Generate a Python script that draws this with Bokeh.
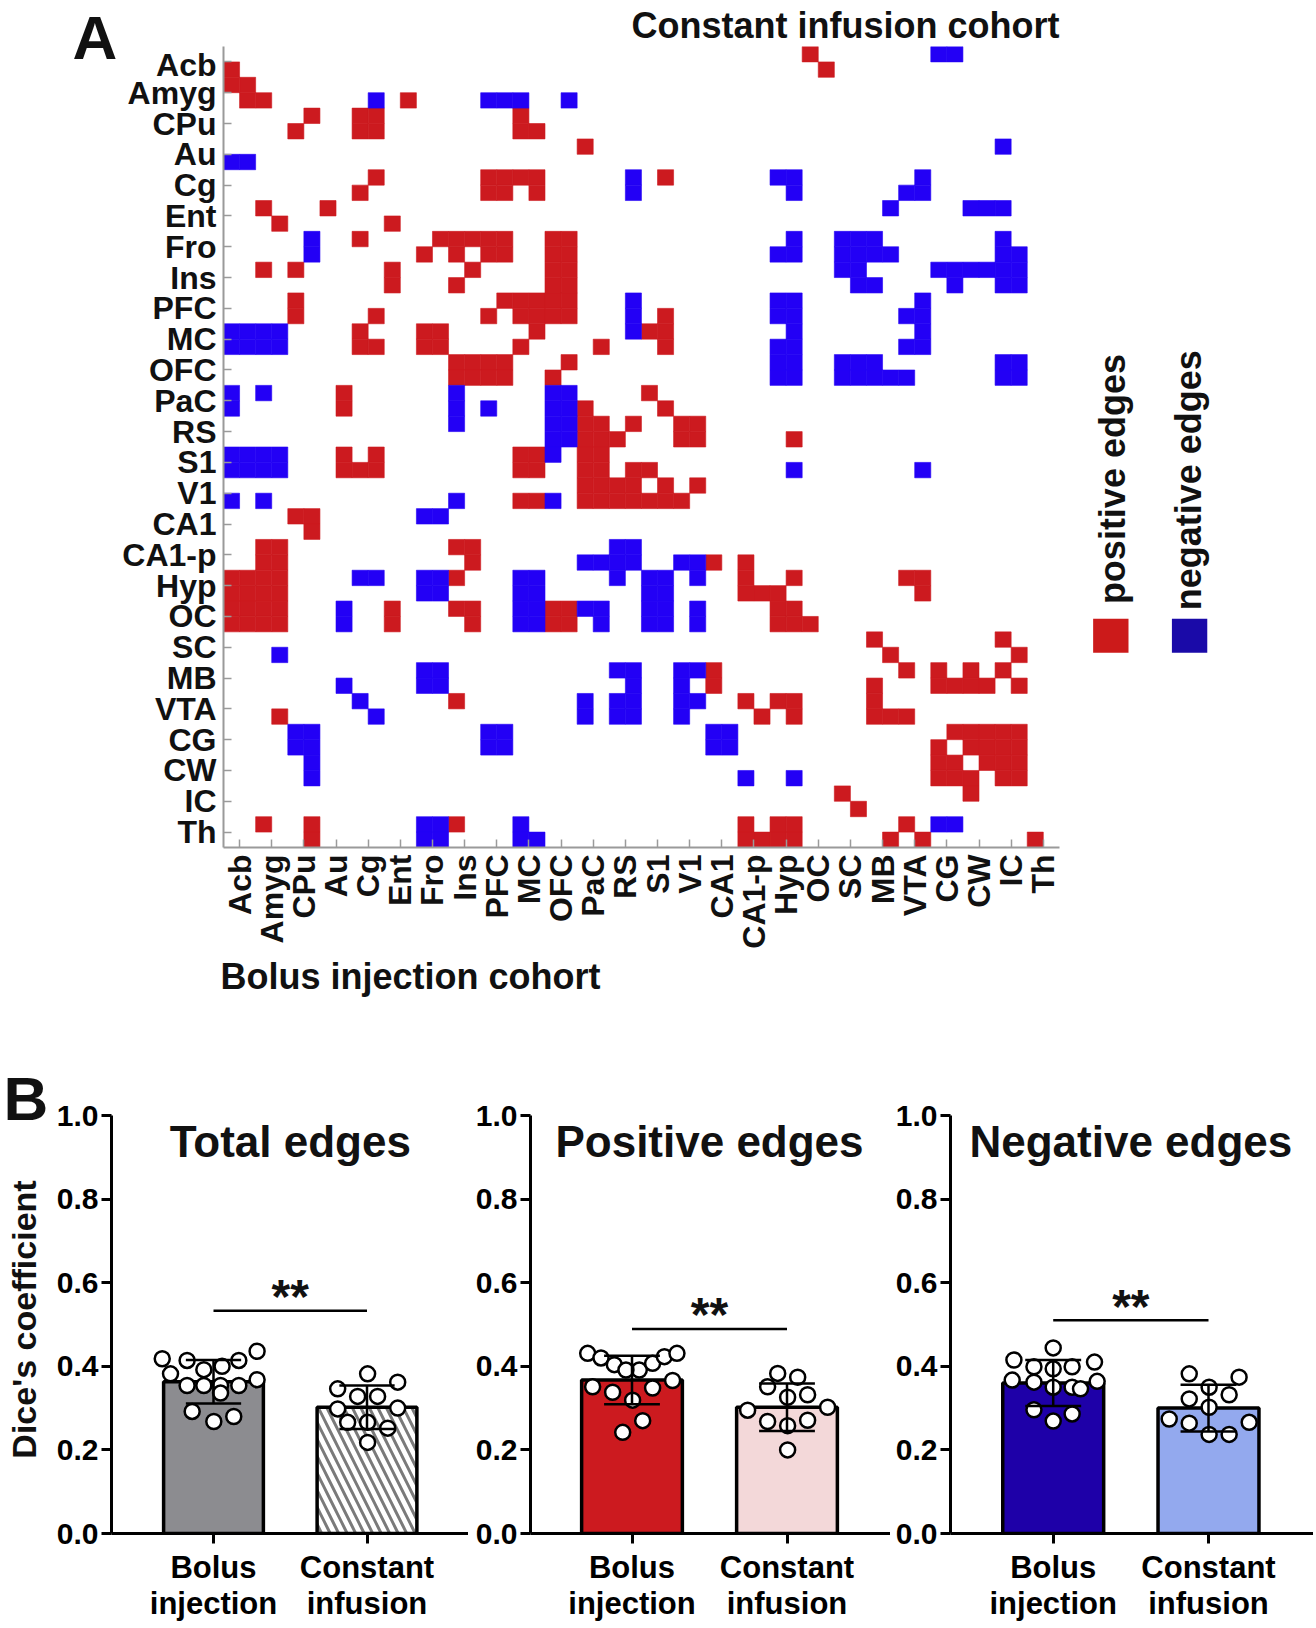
import math
from bokeh.plotting import figure
from bokeh.models import Range1d, FixedTicker, Label, PrintfTickFormatter
from bokeh.layouts import column, row
from bokeh.embed import file_html
from bokeh.resources import INLINE

FONT = "Liberation Sans"
RED = "#CC1A1F"
BLUE = "#2300F5"
BASE_SHIFT = 0.33   # Bokeh draws an "alphabetic" label about a third of an em low

# ---------------- Panel A data ----------------
regions = ["Acb", "Amyg", "CPu", "Au", "Cg", "Ent", "Fro", "Ins", "PFC", "MC",
           "OFC", "PaC", "RS", "S1", "V1", "CA1", "CA1-p", "Hyp", "OC", "SC",
           "MB", "VTA", "CG", "CW", "IC", "Th"]

# column indices of positive (red) edges, one list per matrix row
pos_edges = [
    [36], [0, 37], [0, 1], [1, 2, 11], [5, 8, 9, 18], [4, 8, 9, 18, 19], [22], [],
    [9, 16, 17, 18, 19, 27], [8, 16, 17, 19], [2, 6], [3, 10],
    [8, 13, 14, 15, 16, 17, 20, 21], [12, 14, 16, 17, 20, 21], [2, 4, 10, 15, 20, 21],
    [10, 14, 20, 21], [4, 17, 18, 19, 20, 21], [4, 9, 16, 18, 19, 20, 21, 27],
    [8, 12, 13, 19, 26, 27], [8, 9, 12, 13, 18, 23, 27], [14, 15, 16, 17, 21],
    [14, 15, 16, 17, 20], [7, 26], [7, 22, 27], [22, 23, 25, 28, 29],
    [22, 23, 24, 28, 29, 35], [7, 9, 18, 19, 22, 23], [7, 8, 9, 18, 19, 22, 23, 25, 26],
    [22, 23, 24, 25, 27, 29], [18, 19, 22, 23, 24, 25, 26, 27, 28], [4, 5], [5],
    [2, 3, 14, 15], [2, 3, 15, 30, 32], [0, 1, 2, 3, 14, 32, 35, 42, 43],
    [0, 1, 2, 3, 32, 33, 34, 43], [0, 1, 2, 3, 10, 14, 15, 20, 21, 34, 35],
    [0, 1, 2, 3, 10, 15, 20, 21, 34, 35, 36], [40, 48], [41, 49],
    [30, 42, 44, 46, 48], [30, 40, 44, 45, 46, 47, 49], [14, 32, 34, 35, 40],
    [3, 33, 35, 40, 41, 42], [45, 46, 47, 48, 49], [44, 46, 47, 48, 49],
    [44, 45, 47, 48, 49], [44, 45, 46, 48, 49], [38, 46], [39],
    [2, 5, 14, 32, 34, 35, 42], [5, 32, 33, 34, 35, 41, 43, 50],
]

# column indices of negative (blue) edges, one list per matrix row
neg_edges = [
    [44, 45], [], [], [9, 16, 17, 18, 21], [], [], [48], [0, 1],
    [25, 34, 35, 43], [25, 35, 42, 43], [41, 46, 47, 48], [],
    [5, 35, 38, 39, 40, 48], [5, 34, 35, 38, 39, 40, 41, 48, 49],
    [38, 39, 44, 45, 46, 47, 48, 49], [39, 40, 45, 48, 49], [25, 34, 35, 43],
    [25, 34, 35, 42, 43], [0, 1, 2, 3, 25, 35, 43], [0, 1, 2, 3, 34, 35, 42, 43],
    [34, 35, 38, 39, 40, 48, 49], [34, 35, 38, 39, 40, 41, 42, 48, 49],
    [0, 2, 14, 20, 21], [0, 14, 16, 20, 21], [14, 20, 21], [20, 21],
    [0, 1, 2, 3, 20], [0, 1, 2, 3, 35, 43], [], [0, 2, 14, 20], [12, 13], [],
    [24, 25], [22, 23, 24, 25, 28, 29], [8, 9, 12, 13, 18, 19, 24, 26, 27, 29],
    [12, 13, 18, 19, 26, 27], [7, 18, 19, 22, 23, 26, 27, 29],
    [7, 18, 19, 23, 26, 27, 29], [], [3], [12, 13, 24, 25, 28, 29],
    [7, 12, 13, 25, 28], [8, 22, 24, 25, 28, 29], [9, 22, 24, 25, 28],
    [4, 5, 16, 17, 30, 31], [4, 5, 16, 17, 30, 31], [5], [5, 32, 35], [], [],
    [12, 13, 18, 44, 45], [12, 13, 18, 19],
]

# ---------------- Panel B data ----------------
group_labels = ["Bolus\ninjection", "Constant\ninfusion"]

total_bolus = [0.418, 0.414, 0.400, 0.414, 0.436, 0.382, 0.392, 0.354, 0.354, 0.354,
               0.354, 0.368, 0.336, 0.292, 0.280, 0.268]
total_const = [0.382, 0.346, 0.362, 0.328, 0.328, 0.298, 0.300, 0.266, 0.266, 0.252, 0.218]
pos_bolus = [0.431, 0.420, 0.404, 0.391, 0.391, 0.407, 0.423, 0.431, 0.351, 0.338,
             0.348, 0.366, 0.319, 0.270, 0.242]
pos_const = [0.383, 0.374, 0.351, 0.326, 0.332, 0.295, 0.302, 0.268, 0.258, 0.271, 0.200]
neg_bolus = [0.444, 0.415, 0.399, 0.394, 0.399, 0.410, 0.367, 0.362, 0.350, 0.350,
             0.364, 0.346, 0.296, 0.286, 0.269]
neg_const = [0.382, 0.374, 0.350, 0.322, 0.332, 0.302, 0.274, 0.264, 0.266, 0.237, 0.237]

total_means = [0.363, 0.302]
total_sds = [0.052, 0.052]
pos_means = [0.367, 0.302]
pos_sds = [0.058, 0.057]
neg_means = [0.360, 0.300]
neg_sds = [0.055, 0.056]
sig_heights = [0.533, 0.489, 0.510]

# horizontal scatter of the dots (positions, in bar units)
total_bolus_jit = [-0.334, -0.172, 0.056, 0.165, 0.284, -0.280, -0.063, -0.172, -0.063, 0.046,
                   0.165, 0.284, 0.046, -0.139, 0.132, 0.002]
total_const_jit = [0.004, -0.191, 0.200, -0.061, 0.069, -0.191, 0.200, -0.126, 0.004, 0.135, 0.004]
pos_bolus_jit = [-0.286, -0.200, -0.114, 0.047, -0.039, 0.133, 0.209, 0.290, -0.254, -0.125,
                 0.133, 0.262, 0.004, 0.069, -0.060]
pos_const_jit = [-0.060, 0.069, -0.125, 0.004, 0.133, -0.254, 0.262, -0.125, 0.004, 0.133, 0.004]
neg_bolus_jit = [0.0, -0.253, -0.124, 0.0, 0.122, 0.266, -0.264, -0.124, 0.0, 0.122,
                 0.283, 0.176, -0.124, 0.122, 0.0]
neg_const_jit = [-0.124, 0.197, 0.004, -0.124, 0.133, 0.004, -0.253, -0.124, 0.262, 0.004, 0.133]


def no_align(p):
    if "frame_align" in p.properties():
        p.frame_align = False
    return p


def strip(w, h):
    """A plain drawing area (no axes) used for free-standing texts, in pixel units."""
    s = figure(width=w, height=h, x_range=Range1d(0, w), y_range=Range1d(h, 0),
               min_border=0, x_axis_location=None, y_axis_location=None,
               output_backend="svg", toolbar_location=None, tools="")
    s.grid.visible = False
    s.outline_line_color = None
    return no_align(s)


def txt(p, x, y, text, size, align="left", baseline="alphabetic", angle=0.0):
    p.add_layout(Label(x=x, y=y, text=text, angle=angle, text_align=align,
                       text_baseline=baseline, text_font=FONT, text_font_style="bold",
                       text_font_size=f"{size}px", text_color="#111111"))


# ---------------- panel letter A (left of the title strip) ----------------
LEFT_W = 118
letter_a = strip(LEFT_W, 72)
txt(letter_a, 72, 57 - BASE_SHIFT * 62, "A", 62)

# ---------------- top strip ----------------
PA_W = 1192
top = strip(PA_W, 46)
txt(top, 845 - LEFT_W, 37 - BASE_SHIFT * 36, "Constant infusion cohort", 36, align="center")

# ---------------- Panel A figure ----------------
N = 2 * len(regions)
XMAX = 67.0
pA = figure(frame_width=1077, frame_height=801, x_range=Range1d(0, XMAX), y_range=Range1d(N, 0),
            min_border_left=223 - LEFT_W, min_border_right=10, min_border_top=0,
            min_border_bottom=110, output_backend="svg", toolbar_location=None, tools="")
no_align(pA)
pA.outline_line_color = None
pA.grid.visible = False
ticks = list(range(1, N, 2))
overrides = {t: regions[i] for i, t in enumerate(ticks)}
for ax in (pA.xaxis[0], pA.yaxis[0]):
    ax.ticker = FixedTicker(ticks=ticks)
    ax.major_label_overrides = overrides
    ax.axis_line_color = "#9a9a9a"
    ax.axis_line_width = 2
    ax.major_tick_line_color = "#9a9a9a"
    ax.major_tick_line_width = 1.5
    ax.major_tick_in = 8
    ax.major_tick_out = 0
    ax.minor_tick_line_color = None
    ax.major_label_text_font = FONT
    ax.major_label_text_font_style = "bold"
    ax.major_label_text_font_size = "32px"
    ax.major_label_text_color = "#111111"
pA.xaxis.bounds = (0, N)
pA.xaxis.major_label_orientation = math.pi / 2
pA.xaxis.major_label_standoff = 7
pA.yaxis.major_label_standoff = 7


def cells(edge_lists):
    xs, ys = [], []
    for r, cols in enumerate(edge_lists):
        for c in cols:
            xs.append(c + 0.5)
            ys.append(r + 0.5)
    return xs, ys


px, py = cells(pos_edges)
nx, ny = cells(neg_edges)
pA.rect(x=px, y=py, width=1, height=1, fill_color=RED, line_color=RED, line_width=0.6)
pA.rect(x=nx, y=ny, width=1, height=1, fill_color=BLUE, line_color=BLUE, line_width=0.6)

# legend
pA.rect(x=[55.2], y=[38.25], width=2.2, height=2.2, fill_color="#CC1A1A", line_color=None)
pA.rect(x=[60.1], y=[38.25], width=2.2, height=2.2, fill_color="#1A0AA8", line_color=None)
txt(pA, 55.3, 36.2, "positive edges", 36, baseline="middle", angle=math.pi / 2)
txt(pA, 60.05, 36.6, "negative edges", 36, baseline="middle", angle=math.pi / 2)

# ---------------- middle strip ----------------
mid = strip(1316, 43)
txt(mid, 220, 31 - BASE_SHIFT * 36, "Bolus injection cohort", 36)

# ---------------- Panel B ----------------
ROW_H = 623
side = strip(50, ROW_H)
txt(side, 3, 118 - BASE_SHIFT * 62, "B", 62)
txt(side, 23, 319, "Dice's coefficient", 34, align="center", baseline="middle",
    angle=math.pi / 2)

FRAME_H = 418


def bar_panel(title, bolus, bolus_jit, const, const_jit, means, sds, fills, sig_y,
              xr, border_left, fw, hatch=False):
    p = figure(frame_width=fw, frame_height=FRAME_H, x_range=Range1d(*xr), y_range=Range1d(0, 1.0),
               min_border_left=border_left, min_border_right=0, min_border_top=115,
               min_border_bottom=90, output_backend="svg", toolbar_location=None, tools="")
    no_align(p)
    p.outline_line_color = None
    p.grid.visible = False
    for ax in (p.xaxis[0], p.yaxis[0]):
        ax.axis_line_color = "black"
        ax.axis_line_width = 3
        ax.major_tick_line_color = "black"
        ax.major_tick_line_width = 3
        ax.major_tick_in = 0
        ax.major_tick_out = 10
        ax.minor_tick_line_color = None
        ax.major_label_text_font = FONT
        ax.major_label_text_font_style = "bold"
        ax.major_label_text_color = "black"
    p.yaxis.ticker = FixedTicker(ticks=[0, 0.2, 0.4, 0.6, 0.8, 1.0])
    p.yaxis.formatter = PrintfTickFormatter(format="%.1f")
    p.yaxis.major_label_text_font_size = "30px"
    p.yaxis.major_label_standoff = 3
    p.xaxis.ticker = FixedTicker(ticks=[1, 2])
    p.xaxis.major_label_overrides = {1: group_labels[0], 2: group_labels[1]}
    p.xaxis.major_label_text_font_size = "31px"
    p.xaxis.major_label_text_line_height = 1.05
    p.xaxis.major_label_standoff = 6

    p.vbar(x=[1], top=[means[0]], width=0.65, fill_color=fills[0], line_color="black", line_width=3.5)
    if hatch:
        p.vbar(x=[2], top=[means[1]], width=0.65, fill_color="white", hatch_pattern="\\",
               hatch_color="#7a7a7a", hatch_weight=3, hatch_scale=17,
               line_color="black", line_width=3.5)
    else:
        p.vbar(x=[2], top=[means[1]], width=0.65, fill_color=fills[1], line_color="black", line_width=3.5)

    p.scatter(x=[1 + j for j in bolus_jit], y=bolus, size=15, marker="circle",
              fill_color="white", line_color="black", line_width=2.5)
    p.scatter(x=[2 + j for j in const_jit], y=const, size=15, marker="circle",
              fill_color="white", line_color="black", line_width=2.5)

    xs = [1, 2]
    p.segment(x0=xs, x1=xs, y0=[m - s for m, s in zip(means, sds)],
              y1=[m + s for m, s in zip(means, sds)], line_color="black", line_width=2.5)
    for sign in (1, -1):
        ys = [m + sign * s for m, s in zip(means, sds)]
        p.segment(x0=[x - 0.18 for x in xs], x1=[x + 0.18 for x in xs], y0=ys, y1=ys,
                  line_color="black", line_width=2.5)

    p.segment(x0=[1], x1=[2], y0=[sig_y], y1=[sig_y], line_color="black", line_width=2.5)
    txt(p, 1.5, sig_y + 0.034, "**", 48, align="center", baseline="middle")
    txt(p, 1.5, 0.904 + BASE_SHIFT * 44 / FRAME_H, title, 44, align="center")
    return p


p1 = bar_panel("Total edges", total_bolus, total_bolus_jit, total_const, total_const_jit,
               total_means, total_sds, ["#8C8C90", "white"], sig_heights[0],
               (1 - 102 / 153.5, 1 + 255 / 153.5), 61, 357, hatch=True)
p2 = bar_panel("Positive edges", pos_bolus, pos_bolus_jit, pos_const, pos_const_jit,
               pos_means, pos_sds, ["#CC1A1F", "#F3D8D9"], sig_heights[1],
               (1 - 101.5 / 155, 1 + 258.5 / 155), 62, 360)
p3 = bar_panel("Negative edges", neg_bolus, neg_bolus_jit, neg_const, neg_const_jit,
               neg_means, neg_sds, ["#1E00A8", "#93A9EE"], sig_heights[2],
               (1 - 102.7 / 155.3, 1 + 260.3 / 155.3), 60, 363)

layout = column(row(letter_a, column(top, pA)), mid, row(side, p1, p2, p3))
open("out.html", "w").write(file_html(layout, INLINE))
